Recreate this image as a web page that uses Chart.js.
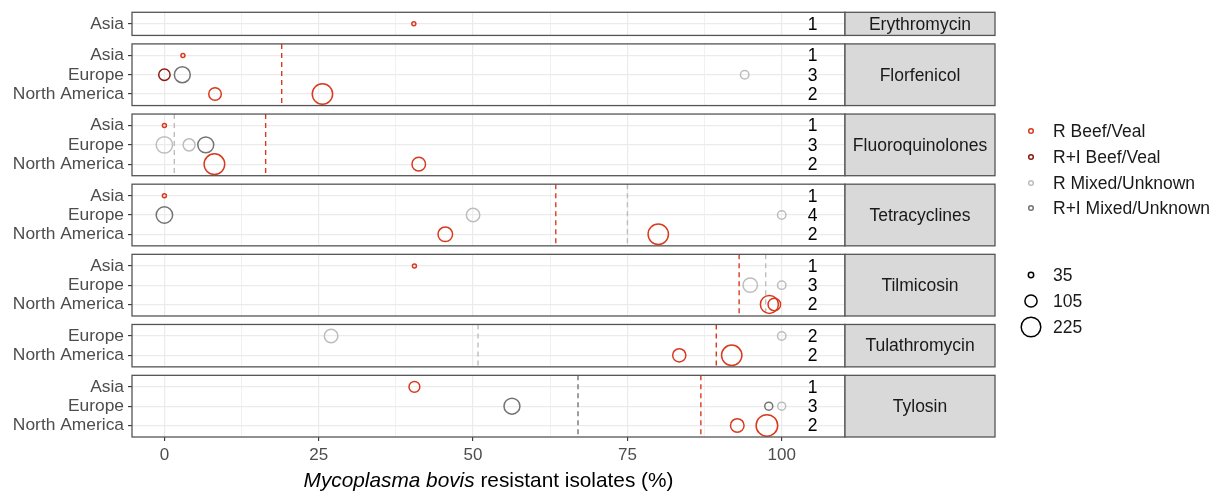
<!DOCTYPE html>
<html>
<head>
<meta charset="utf-8">
<script src="https://cdn.jsdelivr.net/npm/chart.js@4.4.1/dist/chart.umd.min.js"></script>
<style>
html,body{margin:0;padding:0;background:#fff;}
#wrap{position:relative;width:1222px;height:496px;font-family:"Liberation Sans",Arial,sans-serif;overflow:hidden;}
#c{position:absolute;left:0;top:0;}
.xtitle{position:absolute;top:468px;left:0;width:977px;text-align:center;font-size:20.8px;line-height:24px;color:#000;white-space:nowrap;}
.leg{position:absolute;left:1018px;height:24px;display:flex;align-items:center;font-size:17.5px;color:#1a1a1a;white-space:nowrap;}
.leg svg{width:26px;height:24px;margin-right:9px;flex:none;}
</style>
</head>
<body>
<div id="wrap">
<canvas id="c" width="1222" height="496"></canvas>
<div class="xtitle"><i>Mycoplasma bovis</i> resistant isolates (%)</div>
</div>
<script>
// ---------------- data ----------------
const antibiotics = ['Erythromycin','Florfenicol','Fluoroquinolones','Tetracyclines','Tilmicosin','Tulathromycin','Tylosin'];
const panelRegions = [
  ['Asia'],
  ['Asia','Europe','North America'],
  ['Asia','Europe','North America'],
  ['Asia','Europe','North America'],
  ['Asia','Europe','North America'],
  ['Europe','North America'],
  ['Asia','Europe','North America']
];
const studyCounts = [[1],[1,3,2],[1,3,2],[1,4,2],[1,3,2],[2,2],[1,3,2]];
const groups = ['R Beef/Veal','R+I Beef/Veal','R Mixed/Unknown','R+I Mixed/Unknown'];
const groupColors = ['#D93A1F','#8B1A10','#BDBDBD','#737373'];
const sizeBreaks = [35,105,225];
const xTickValues = [0,12.5,25,37.5,50,62.5,75,87.5,100];
const xTickLabels = ['0','','25','','50','','75','','100'];
const countX = 105;

// [antibiotic, region, % resistant, isolates]
const rBeefVeal = [
  ['Erythromycin','Asia',40.4,25],
  ['Florfenicol','Asia',3.0,25],
  ['Florfenicol','North America',8.2,110],
  ['Florfenicol','North America',25.6,240],
  ['Fluoroquinolones','Asia',0,25],
  ['Fluoroquinolones','North America',8.1,245],
  ['Fluoroquinolones','North America',41.2,124],
  ['Tetracyclines','Asia',0,25],
  ['Tetracyclines','North America',45.5,139],
  ['Tetracyclines','North America',80.0,240],
  ['Tilmicosin','Asia',40.5,25],
  ['Tilmicosin','North America',98.0,195],
  ['Tilmicosin','North America',98.8,110],
  ['Tulathromycin','North America',83.4,119],
  ['Tulathromycin','North America',91.9,240],
  ['Tylosin','Asia',40.5,88],
  ['Tylosin','North America',92.8,124],
  ['Tylosin','North America',97.6,265]
];
const riBeefVeal = [
  ['Florfenicol','Europe',0,95]
];
const rMixedUnknown = [
  ['Florfenicol','Europe',94.0,62],
  ['Fluoroquinolones','Europe',0,168],
  ['Fluoroquinolones','Europe',4.0,103],
  ['Tetracyclines','Europe',50.0,122],
  ['Tetracyclines','Europe',100,61],
  ['Tilmicosin','Europe',94.9,136],
  ['Tilmicosin','Europe',100,61],
  ['Tulathromycin','Europe',27.0,124],
  ['Tulathromycin','Europe',100,61],
  ['Tylosin','Europe',100,57]
];
const riMixedUnknown = [
  ['Florfenicol','Europe',2.9,160],
  ['Fluoroquinolones','Europe',6.7,160],
  ['Tetracyclines','Europe',0,168],
  ['Tylosin','Europe',56.3,160],
  ['Tylosin','Europe',97.9,57]
];
const groupPoints = [rBeefVeal, riBeefVeal, rMixedUnknown, riMixedUnknown];

// pooled estimates (dashed lines): antibiotic, group index, %
const pooledAntibiotic = ['Florfenicol','Fluoroquinolones','Fluoroquinolones','Tetracyclines','Tetracyclines','Tilmicosin','Tilmicosin','Tulathromycin','Tulathromycin','Tylosin','Tylosin'];
const pooledGroup      = [0,2,0,0,2,0,2,2,0,3,0];
const pooledPercent    = [19.0,1.6,16.4,63.4,75.0,93.1,97.4,50.8,89.4,67.0,86.9];

// ---------------- helpers ----------------
const FONT = '"Liberation Sans", Arial, sans-serif';
const radius = n => Math.max(1.6, -1.9 + 0.78 * Math.sqrt(n));
const GAP = 0.44;

// legend (HTML)
const wrap = document.getElementById('wrap');
const legY = [131,157,183,208];
groups.forEach((g,i)=>{
  const d = document.createElement('div'); d.className='leg'; d.style.top=(legY[i]-12)+'px';
  d.innerHTML = `<svg viewBox="0 0 26 24"><circle cx="13" cy="12" r="2.3" fill="none" stroke="${groupColors[i]}" stroke-width="1.5"/></svg><span>${g}</span>`;
  wrap.appendChild(d);
});
const sizeY = [275,301,327];
sizeBreaks.forEach((s,i)=>{
  const d = document.createElement('div'); d.className='leg'; d.style.top=(sizeY[i]-12)+'px';
  d.innerHTML = `<svg viewBox="0 0 26 24"><circle cx="13" cy="12" r="${radius(s).toFixed(2)}" fill="none" stroke="#000" stroke-width="1.5"/></svg><span>${s}</span>`;
  wrap.appendChild(d);
});

// ---------------- datasets ----------------
const datasets = [];
antibiotics.forEach((ab,p)=>{
  const regs = panelRegions[p];
  groupPoints.forEach((rows,g)=>{
    const data = rows.filter(r=>r[0]===ab).map(r=>({x:r[2], y:regs.indexOf(r[1]), n:r[3]}));
    if(!data.length) return;
    datasets.push({
      type:'scatter', label:groups[g], data, yAxisID:'y'+p, order:1,
      pointStyle:'circle', pointBackgroundColor:'rgba(0,0,0,0)', pointBorderColor:groupColors[g],
      borderColor:groupColors[g], pointBorderWidth:1.5,
      pointRadius: ctx => radius(ctx.raw.n), pointHoverRadius: ctx => radius(ctx.raw.n)
    });
  });
});
pooledAntibiotic.forEach((ab,i)=>{
  const p = antibiotics.indexOf(ab); const k = panelRegions[p].length;
  datasets.push({
    type:'line', label:'pooled', yAxisID:'y'+p, order:2,
    data:[{x:pooledPercent[i], y:-0.6},{x:pooledPercent[i], y:k-0.4}],
    borderColor:groupColors[pooledGroup[i]], borderWidth:1.4, borderDash:[5,4],
    pointRadius:0, fill:false, showLine:true, tension:0
  });
});

// ---------------- scales ----------------
const scales = {
  x:{
    type:'linear', position:'bottom', min:-5.25, max:110.25,
    afterBuildTicks: s => { s.ticks = xTickValues.map(v=>({value:v})); },
    afterFit: s => { s.height = 59; },
    ticks:{ autoSkip:false, maxRotation:0, padding:4, color:'#4d4d4d',
      font:{family:FONT, size:17}, callback:(v,i)=> xTickLabels[i] },
    grid:{ color:'#ebebeb', lineWidth: ctx => (ctx.tick && ctx.tick.value % 25 === 0) ? 1.2 : 0.7,
      tickColor: ctx => (ctx.tick && ctx.tick.value % 25 === 0) ? '#333' : 'rgba(0,0,0,0)',
      tickLength:4, tickWidth:1.1 },
    border:{display:false}
  }
};
const gapIds = [];
let w = 100;
antibiotics.forEach((ab,p)=>{
  const regs = panelRegions[p]; const k = regs.length;
  scales['y'+p] = {
    type:'linear', position:'left', stack:'facets', stackWeight:k+0.2, weight:w--,
    min:-0.6, max:k-0.4, reverse:true,
    afterBuildTicks: s => { s.ticks = regs.map((_,i)=>({value:i})); },
    afterFit: s => { s.width = 120; s.paddingTop = 0; s.paddingBottom = 0; },
    ticks:{ autoSkip:false, padding:4, color:'#4d4d4d', font:{family:FONT, size:17.4},
      callback: v => regs[v] !== undefined ? regs[v] : '' },
    grid:{ color:'#ebebeb', lineWidth:1.2, tickColor:'#333', tickLength:4, tickWidth:1.1 },
    border:{display:false}
  };
  if(p < antibiotics.length-1){
    const id = 'g'+p; gapIds.push(id);
    scales[id] = { type:'linear', position:'left', stack:'facets', stackWeight:GAP, weight:w--,
      min:0, max:1, display:false };
  }
});

// ---------------- facet plugin ----------------
const facetPlugin = {
  id:'facets',
  beforeDatasetsDraw(chart){
    const {ctx, chartArea:a} = chart;
    ctx.save(); ctx.fillStyle='#fff';
    gapIds.forEach(id=>{ const s = chart.scales[id]; ctx.fillRect(a.left-1, s.top, a.right-a.left+2, s.bottom-s.top); });
    ctx.restore();
  },
  afterDatasetsDraw(chart){
    const {ctx, chartArea:a} = chart; const xs = chart.scales.x;
    const stripW = 150;
    ctx.save();
    antibiotics.forEach((ab,p)=>{
      const s = chart.scales['y'+p];
      const top = s.top, h = s.bottom - s.top;
      ctx.lineWidth = 1.3; ctx.strokeStyle = '#555';
      ctx.strokeRect(a.left, top, a.right-a.left, h);
      ctx.fillStyle = '#d9d9d9';
      ctx.fillRect(a.right, top, stripW, h);
      ctx.strokeRect(a.right, top, stripW, h);
      ctx.fillStyle = '#1a1a1a'; ctx.font = '17.5px ' + FONT;
      ctx.textAlign = 'center'; ctx.textBaseline = 'middle';
      ctx.fillText(ab, a.right + stripW/2, top + h/2 + 1);
      ctx.fillStyle = '#000';
      panelRegions[p].forEach((r,i)=>{
        ctx.fillText(String(studyCounts[p][i]), xs.getPixelForValue(countX), s.getPixelForValue(i) + 1);
      });
    });
    ctx.restore();
  }
};

new Chart(document.getElementById('c'), {
  type:'scatter',
  data:{ datasets },
  options:{
    responsive:false, animation:false, devicePixelRatio:1,
    layout:{ padding:{ left:12, right:377, top:11, bottom:0 } },
    plugins:{ legend:{display:false}, tooltip:{enabled:false} },
    scales
  },
  plugins:[facetPlugin]
});
</script>
</body>
</html>
